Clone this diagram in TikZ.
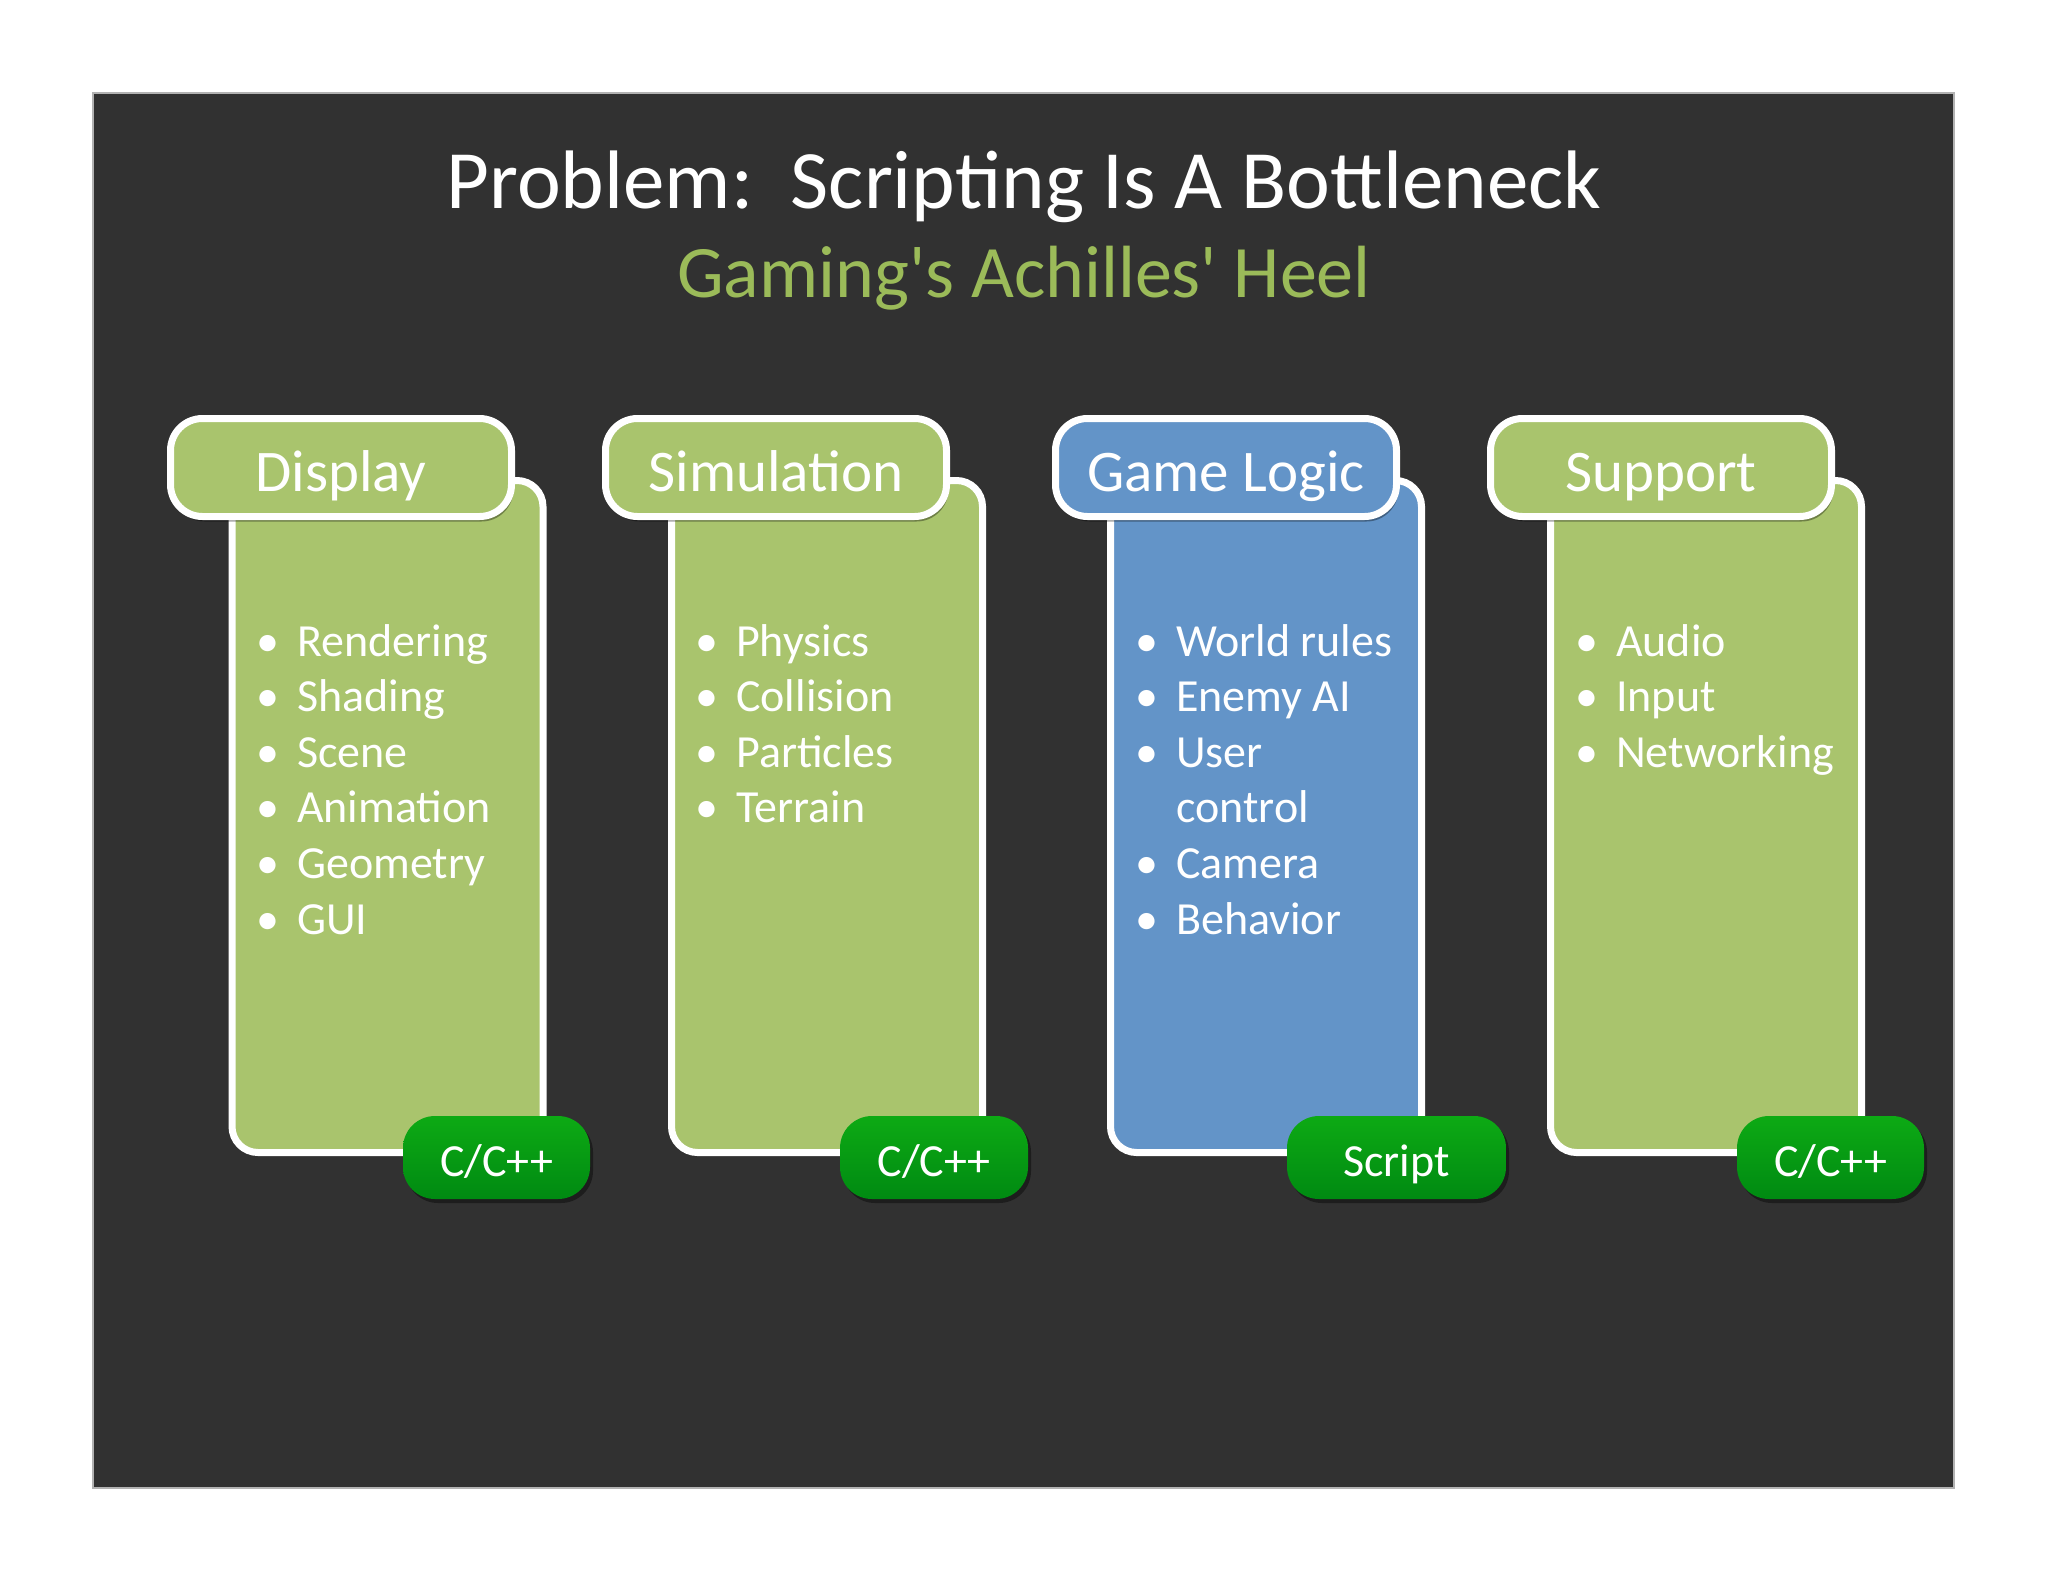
\documentclass[tikz,border=0pt]{standalone}
\usepackage{fontspec}
\setmainfont{Carlito}[Ligatures=TeXOff]
\usetikzlibrary{shadows}
\definecolor{bgdark}{HTML}{313131}
\definecolor{olive}{HTML}{A9C46D}
\definecolor{steel}{HTML}{6394C8}
\definecolor{subgreen}{HTML}{9BBB59}
\definecolor{pilltop}{HTML}{0DAA14}
\definecolor{pillbot}{HTML}{008A12}
\begin{document}
\begin{tikzpicture}[x=1pt,y=-1pt,
  panel/.style={draw=white, line width=7pt, rounded corners=26pt, inner sep=0,
    minimum width=311pt, minimum height=672pt},
  tabbox/.style={draw=white, line width=7pt, rounded corners=32pt, inner sep=0,
    minimum width=341pt, minimum height=98pt,
    drop shadow={fill=black, opacity=0.35, shadow xshift=2pt, shadow yshift=-5pt}},
  tabtext/.style={text=white, font=\fontsize{59}{70}\selectfont, anchor=base, inner sep=0},
  pill/.style={rounded corners=32pt, minimum height=83pt, inner sep=0,
    top color=pilltop, bottom color=pillbot,
    drop shadow={fill=black, opacity=0.4, shadow xshift=3pt, shadow yshift=-4pt}},
  pilltext/.style={text=white, font=\fontsize{46}{54}\selectfont, anchor=base, inner sep=0},
  item/.style={text=white, font=\fontsize{46}{55}\selectfont, anchor=base west, inner sep=0},
]
\useasboundingbox[fill=white] (0,0) rectangle (2048,1582);
\fill[bgdark, draw=gray!60, line width=1.5pt] (93,93) rectangle (1954,1488);

\node[text=white, font=\fontsize{83}{99}\selectfont, anchor=base, inner sep=0] (title) at (1024,208) {Problem:\ \ Scripting Is A Bottleneck};
\node[text=subgreen, font=\fontsize{74}{88}\selectfont, anchor=base, inner sep=0] (subtitle) at (1024,297) {Gaming's Achilles' Heel};

% Display
\node[panel, fill=olive] (b1) at (387.5,816.5) {};
\node[tabbox, fill=olive] (t1) at (341,467.5) {};
\node[tabtext] (t1l) at (341,491) {Display};
\node[pill, minimum width=187pt] (p1) at (496.5,1157.5) {};
\node[pilltext] (p1l) at (496.5,1176) {C/C++};
\foreach \t [count=\i] in {Rendering,Shading,Scene,Animation,Geometry,GUI}
  \node[item] (d\i) at (239,{656+55.6*(\i-1)}) {\makebox[58pt][c]{•}\t};

% Simulation
\node[panel, fill=olive] (b2) at (827,816.5) {};
\node[tabbox, fill=olive] (t2) at (776,467.5) {};
\node[tabtext] (t2l) at (776,491) {Simulation};
\node[pill, minimum width=188pt] (p2) at (934,1157.5) {};
\node[pilltext] (p2l) at (934,1176) {C/C++};
\foreach \t [count=\i] in {Physics,Collision,Particles,Terrain}
  \node[item] (s\i) at (678,{656+55.6*(\i-1)}) {\makebox[58pt][c]{•}\t};

% Game Logic
\node[panel, fill=steel] (b3) at (1266,816.5) {};
\node[tabbox, fill=steel] (t3) at (1226,467.5) {};
\node[tabtext] (t3l) at (1226,491) {Game Logic};
\node[pill, minimum width=219pt] (p3) at (1396.5,1157.5) {};
\node[pilltext] (p3l) at (1396.5,1176) {Script};
\foreach \t/\b [count=\i] in {World rules/•,Enemy AI/•,User/•,control/{},Camera/•,Behavior/•}
  \node[item] (g\i) at (1118,{656+55.6*(\i-1)}) {\makebox[58pt][c]{\b}\t};

% Support
\node[panel, fill=olive] (b4) at (1706,816.5) {};
\node[tabbox, fill=olive] (t4) at (1661,467.5) {};
\node[tabtext] (t4l) at (1661,491) {Support};
\node[pill, minimum width=187pt] (p4) at (1830.5,1157.5) {};
\node[pilltext] (p4l) at (1830.5,1176) {C/C++};
\foreach \t [count=\i] in {Audio,Input,Networking}
  \node[item] (u\i) at (1558,{656+55.6*(\i-1)}) {\makebox[58pt][c]{•}\t};
\end{tikzpicture}
\end{document}
